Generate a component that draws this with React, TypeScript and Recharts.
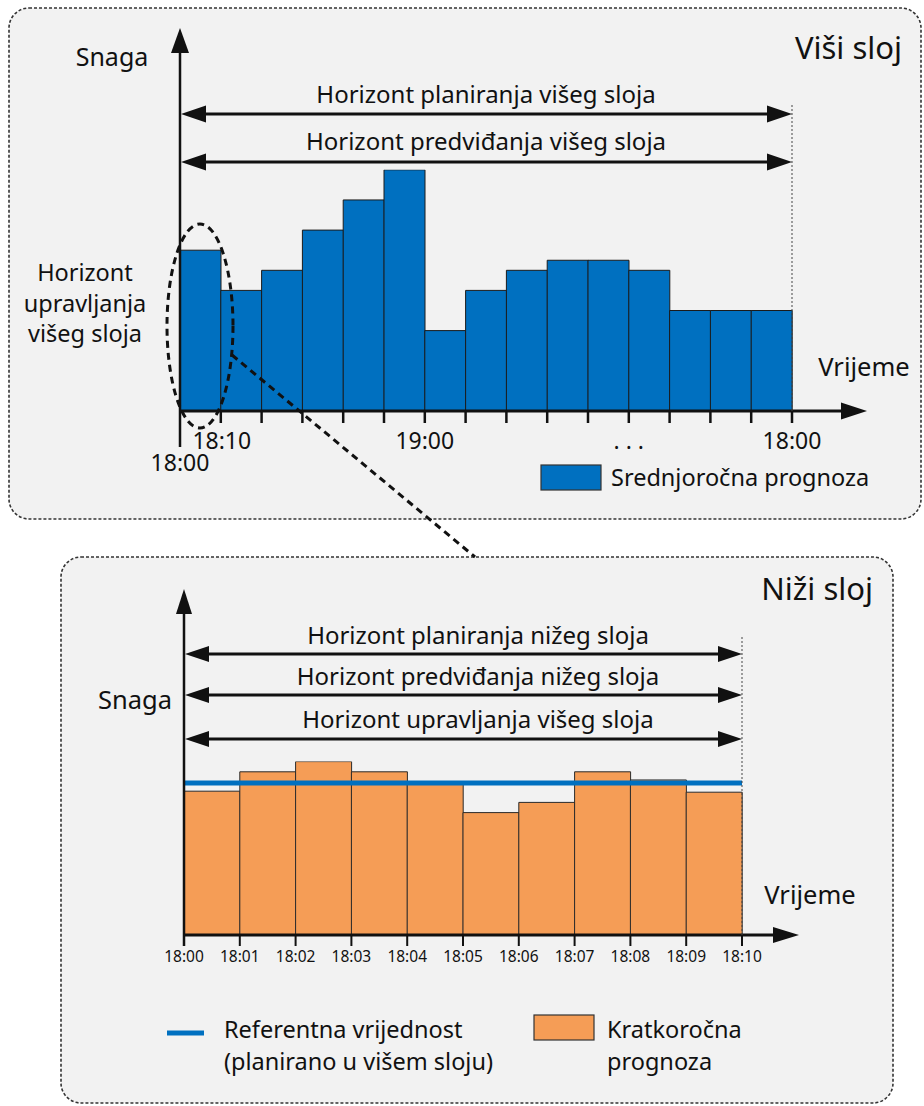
import React from "react";
import { BarChart, Bar, XAxis, YAxis, ReferenceLine } from "recharts";

const FONT = "'Noto Sans', 'Open Sans', sans-serif";
const INK = "#111111";
const BLUE = "#0070C0";
const ORANGE = "#F59D56";
const PANEL_BG = "#F2F2F2";

// ---------- Upper layer (Viši sloj) ----------
const upperSlots = ["18:00", "18:10", "18:20", "18:30", "18:40", "18:50", "19:00", "19:10", "19:20", "19:30", "19:40", "…", "17:30", "17:40", "17:50"];
const mediumTermForecast = [8, 6, 7, 9, 10.5, 12, 4, 6, 7, 7.5, 7.5, 7, 5, 5, 5];
// labels at the slot boundaries (one more than the slots)
const upperTickLabels = ["18:00", "18:10", "", "", "", "", "19:00", "", "", "", "", ". . .", "", "", "", "18:00"];

// ---------- Lower layer (Niži sloj) ----------
const lowerSlots = ["18:00", "18:01", "18:02", "18:03", "18:04", "18:05", "18:06", "18:07", "18:08", "18:09"];
const shortTermForecast = [14.1, 16, 17, 16, 14.9, 12, 13, 16, 15.2, 14];
const referenceValue = 14.9;
const lowerTickLabels = ["18:00", "18:01", "18:02", "18:03", "18:04", "18:05", "18:06", "18:07", "18:08", "18:09", "18:10"];

const upperData = upperSlots.map((slot, i) => ({ slot, value: mediumTermForecast[i] }));
const lowerData = lowerSlots.map((slot, i) => ({ slot, value: shortTermForecast[i] }));

// layout
const W = 924;
const U = { top: 0, h: 530, left: 180, right: 792, base: 411, unit: 20.1, max: 12, axisH: 40 };
const L = { top: 540, h: 460, left: 184, right: 742, base: 935, unit: 10.2, max: 17, axisH: 40 };
const uBand = (U.right - U.left) / upperSlots.length;
const lBand = (L.right - L.left) / lowerSlots.length;

function UpperTickMark({ x, y, i }: { x: number; y: number; i: number }) {
  const label = upperTickLabels[i];
  const first = i === 0;
  return (
    <g>
      {!first && <line x1={x} x2={x} y1={y} y2={y + 12} stroke={INK} strokeWidth={2.5} />}
      {label ? (
        <text x={x + (i === 1 ? 1 : 0)} y={y + (first ? 51 : 29)} textAnchor="middle" dominantBaseline="central" fontFamily={FONT} fontSize={23} fill={INK}>
          {label}
        </text>
      ) : null}
    </g>
  );
}

function UpperTick(props: any) {
  const { x, y, index } = props;
  const last = index === upperSlots.length - 1;
  return (
    <g>
      <UpperTickMark x={x - uBand / 2} y={y} i={index} />
      {last && <UpperTickMark x={x + uBand / 2} y={y} i={index + 1} />}
    </g>
  );
}

function LowerTickMark({ x, y, i }: { x: number; y: number; i: number }) {
  return (
    <g>
      <line x1={x} x2={x} y1={y} y2={y + 11} stroke={INK} strokeWidth={2} />
      <text x={x} y={y + 21} textAnchor="middle" dominantBaseline="central" fontFamily={FONT} fontSize={15.5} fill={INK}>
        {lowerTickLabels[i]}
      </text>
    </g>
  );
}

function LowerTick(props: any) {
  const { x, y, index } = props;
  const last = index === lowerSlots.length - 1;
  return (
    <g>
      <LowerTickMark x={x - lBand / 2} y={y} i={index} />
      {last && <LowerTickMark x={x + lBand / 2} y={y} i={index + 1} />}
    </g>
  );
}

function DoubleArrow({ x1, x2, y, head = 25, half = 8.5 }: { x1: number; x2: number; y: number; head?: number; half?: number }) {
  return (
    <g>
      <line x1={x1 + head - 2} x2={x2 - head + 2} y1={y} y2={y} stroke={INK} strokeWidth={3} />
      <polygon points={`${x1},${y} ${x1 + head},${y - half} ${x1 + head},${y + half}`} fill={INK} />
      <polygon points={`${x2},${y} ${x2 - head},${y - half} ${x2 - head},${y + half}`} fill={INK} />
    </g>
  );
}

function T({ x, y, size = 23.5, anchor = "middle", children }: any) {
  return (
    <text x={x} y={y} textAnchor={anchor} dominantBaseline="central" fontFamily={FONT} fontSize={size} fill={INK}>
      {children}
    </text>
  );
}

export default function App() {
  const uPlotTop = U.base - U.unit * U.max;
  const lBaseLocal = L.base - L.top;
  const lPlotTop = lBaseLocal - L.unit * L.max;
  return (
    <div style={{ position: "absolute", left: 0, top: 0, width: W, height: 1106, overflow: "hidden", background: "#ffffff" }}>
      {/* panels */}
      <svg width={W} height={1106} style={{ position: "absolute", left: 0, top: 0 }}>
        <rect x={9} y={8} width={912} height={511} rx={20} fill={PANEL_BG} stroke="#333" strokeWidth={1.6} strokeDasharray="3 2" />
        <rect x={61} y={557} width={832} height={546} rx={20} fill={PANEL_BG} stroke="#333" strokeWidth={1.6} strokeDasharray="3 2" />
      </svg>

      {/* upper chart */}
      <div style={{ position: "absolute", left: 0, top: U.top }}>
        <BarChart
          width={W}
          height={U.h}
          data={upperData}
          margin={{ top: uPlotTop - U.top, left: U.left, right: W - U.right, bottom: U.h - (U.base - U.top) - U.axisH }}
          barCategoryGap={0}
          barGap={0}
        >
          <XAxis
            dataKey="slot"
            height={U.axisH}
            tickSize={0}
            tickMargin={0}
            axisLine={false}
            tickLine={false}
            interval={0}
            tick={(p: any) => <UpperTick {...p} />}
          />
          <YAxis hide domain={[0, U.max]} allowDataOverflow />
          <Bar dataKey="value" fill={BLUE} stroke="#1b1b1b" strokeWidth={1} isAnimationActive={false} />
        </BarChart>
      </div>

      {/* lower chart */}
      <div style={{ position: "absolute", left: 0, top: L.top }}>
        <BarChart
          width={W}
          height={L.h}
          data={lowerData}
          margin={{ top: lPlotTop, left: L.left, right: W - L.right, bottom: L.h - lBaseLocal - L.axisH }}
          barCategoryGap={0}
          barGap={0}
        >
          <XAxis
            dataKey="slot"
            height={L.axisH}
            tickSize={0}
            tickMargin={0}
            axisLine={false}
            tickLine={false}
            interval={0}
            tick={(p: any) => <LowerTick {...p} />}
          />
          <YAxis hide domain={[0, L.max]} allowDataOverflow />
          <Bar dataKey="value" fill={ORANGE} stroke="#2a2a2a" strokeWidth={1} isAnimationActive={false} />
          <ReferenceLine y={referenceValue} stroke={BLUE} strokeWidth={5} />
        </BarChart>
      </div>

      {/* annotations */}
      <svg width={W} height={1106} style={{ position: "absolute", left: 0, top: 0, pointerEvents: "none" }}>
        {/* ---- upper ---- */}
        <line x1={U.left} x2={U.left} y1={50} y2={447} stroke={INK} strokeWidth={2.5} />
        <polygon points={`${U.left},28 ${U.left - 9},53 ${U.left + 9},53`} fill={INK} />
        <line x1={U.left} x2={845} y1={U.base} y2={U.base} stroke={INK} strokeWidth={3} />
        <polygon points={`867,${U.base} 841,${U.base - 8.5} 841,${U.base + 8.5}`} fill={INK} />
        <line x1={U.right} x2={U.right} y1={105} y2={U.base} stroke="#444" strokeWidth={1} strokeDasharray="2 2" />
        <DoubleArrow x1={U.left + 1} x2={U.right} y={114} />
        <DoubleArrow x1={U.left + 1} x2={U.right} y={162} />
        <T x={112} y={56} size={25}>Snaga</T>
        <T x={902} y={47} size={31} anchor="end">Viši sloj</T>
        <T x={486} y={93} size={24}>Horizont planiranja višeg sloja</T>
        <T x={486} y={140} size={24}>Horizont predviđanja višeg sloja</T>
        <T x={85} y={272}>Horizont</T>
        <T x={85} y={303}>upravljanja</T>
        <T x={85} y={333}>višeg sloja</T>
        <T x={864} y={366} size={25.5}>Vrijeme</T>
        <rect x={541} y={465} width={60} height={25} fill={BLUE} stroke="#333" strokeWidth={1.2} />
        <T x={611} y={477} anchor="start">Srednjoročna prognoza</T>
        <ellipse cx={200} cy={326} rx={33} ry={102} fill="none" stroke={INK} strokeWidth={3} strokeDasharray="7 5" />
        <line x1={232} y1={355} x2={475} y2={557} stroke={INK} strokeWidth={3} strokeDasharray="7 5" />

        {/* ---- lower ---- */}
        <line x1={L.left} x2={L.left} y1={610} y2={946} stroke={INK} strokeWidth={2.5} />
        <polygon points={`${L.left},589 ${L.left - 8},614 ${L.left + 8},614`} fill={INK} />
        <line x1={L.left} x2={778} y1={L.base} y2={L.base} stroke={INK} strokeWidth={3} />
        <polygon points={`799,${L.base} 773,${L.base - 8} 773,${L.base + 8}`} fill={INK} />
        <line x1={L.right} x2={L.right} y1={637} y2={L.base} stroke="#444" strokeWidth={1} strokeDasharray="2 2" />
        <DoubleArrow x1={L.left + 1} x2={L.right} y={654} head={24} half={8} />
        <DoubleArrow x1={L.left + 1} x2={L.right} y={695} head={24} half={8} />
        <DoubleArrow x1={L.left + 1} x2={L.right} y={739} head={24} half={8} />
        <T x={873} y={588} size={31} anchor="end">Niži sloj</T>
        <T x={478} y={634} size={24}>Horizont planiranja nižeg sloja</T>
        <T x={478} y={675} size={24}>Horizont predviđanja nižeg sloja</T>
        <T x={478} y={718} size={24}>Horizont upravljanja višeg sloja</T>
        <T x={135} y={699} size={25.5}>Snaga</T>
        <T x={810} y={894} size={25.5}>Vrijeme</T>
        <line x1={167} x2={204} y1={1033} y2={1033} stroke={BLUE} strokeWidth={5} />
        <T x={224} y={1029} anchor="start">Referentna vrijednost</T>
        <T x={224} y={1061} anchor="start">(planirano u višem sloju)</T>
        <rect x={534} y={1015} width={60} height={25} fill={ORANGE} stroke="#333" strokeWidth={1.2} />
        <T x={607} y={1029} anchor="start">Kratkoročna</T>
        <T x={607} y={1061} anchor="start">prognoza</T>
      </svg>
    </div>
  );
}
